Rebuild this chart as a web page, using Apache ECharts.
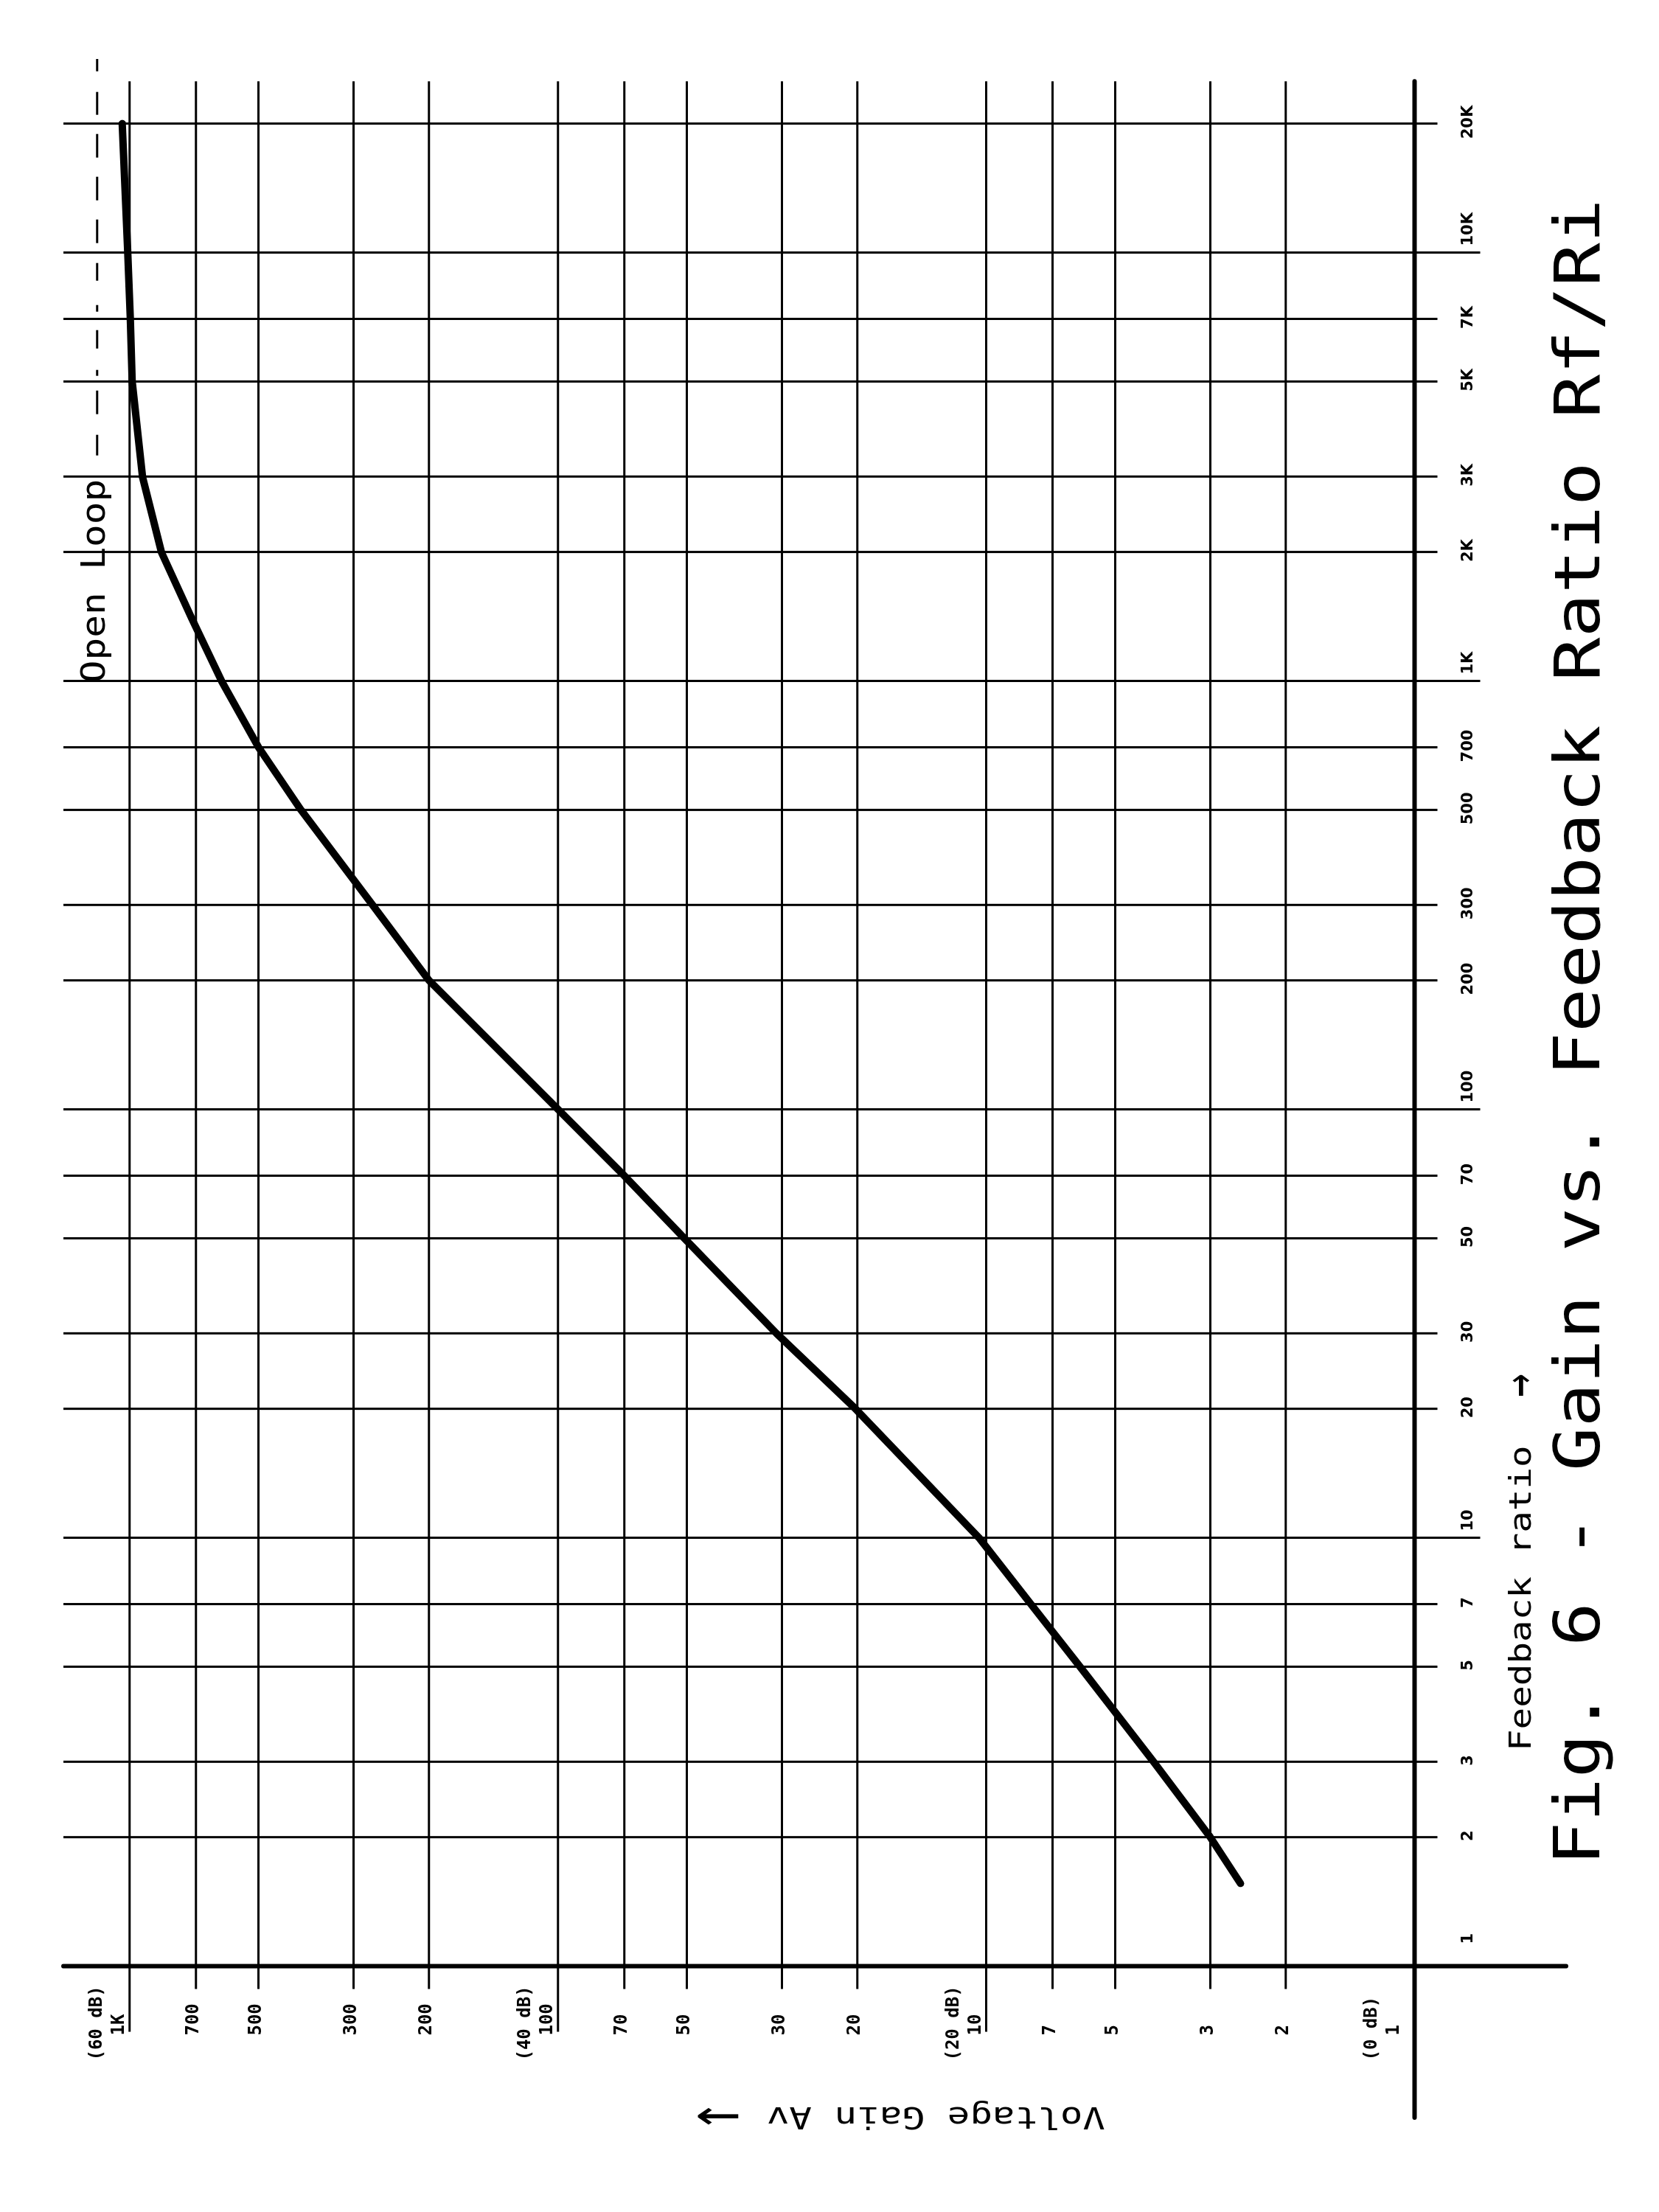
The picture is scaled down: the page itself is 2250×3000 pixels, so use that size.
<!DOCTYPE html>
<html>
<head>
<meta charset="utf-8">
<script src="https://cdn.jsdelivr.net/npm/echarts@6/dist/echarts.min.js"></script>
<style>
html, body { margin:0; padding:0; background:#ffffff; overflow:hidden; }
body { width:2250px; height:3000px; position:relative; }
#chart { position:absolute; left:0; top:0; width:3000px; height:2250px;
  transform-origin:0 0; transform:translate(0px, 3000px) rotate(-90deg); }
</style>
</head>
<body>
<div id="chart"></div>
<script>
// ---------- data ----------
const ratioTicks = [1, 2, 3, 5, 7, 10, 20, 30, 50, 70, 100, 200, 300, 500, 700, 1000, 2000, 3000, 5000, 7000, 10000, 20000];
const ratioTickLabels = ['1','2','3','5','7','10','20','30','50','70','100','200','300','500','700','1K','2K','3K','5K','7K','10K','20K'];
const gainTicks = [1, 2, 3, 5, 7, 10, 20, 30, 50, 70, 100, 200, 300, 500, 700, 1000];
const gainTickLabels = ['1','2','3','5','7','10','20','30','50','70','100','200','300','500','700','1K'];
const gainDbTicks = [1, 10, 100, 1000];
const gainDbLabels = ['(0 dB)', '(20 dB)', '(40 dB)', '(60 dB)'];

const curveRatio = [1.56, 2, 3, 5, 7, 10, 20, 30, 50, 70, 100, 200, 300, 500, 700, 1000, 1400, 2000, 3000, 5000, 7000, 10000, 20000];
const curveGain  = [2.55, 3, 4.07, 6.04, 7.87, 10.4, 20.2, 30.9, 50.7, 70, 100, 200, 271, 398, 500, 610, 716, 843, 933, 986, 996, 1010, 1040];

const openLoopGain = 1190;
const openLoopRatioRange = [3360, 28300];

const ratioAxisRange = [0.443, 28300];
const gainAxisRange = [0.443, 1427];
const ratioGridMax = 25100;

const titleText = 'Fig. 6 - Gain vs. Feedback Ratio Rf/Ri';
const xName = 'Feedback ratio';
const yName = 'Voltage Gain Av';
const arrowText = '\u2192';
const openLoopText = 'Open Loop';

// ---------- helpers ----------
const MONO = 'DejaVu Sans Mono';
const SANS = 'DejaVu Sans';
function isDecade(v) { const l = Math.log10(v); return Math.abs(l - Math.round(l)) < 1e-9; }
function txtStyle(text, family, size, weight, align, valign, x, y) {
  const s = { text: text, fontFamily: family, fontSize: size, fontWeight: weight, fill: '#000',
    textAlign: align, textVerticalAlign: valign, align: align, verticalAlign: valign };
  if (x !== undefined) { s.x = x; s.y = y; }
  return s;
}
function txt(text, x, y, family, size, weight, align, valign) {
  return { type: 'text', style: txtStyle(text, family, size, weight, align, valign, x, y) };
}

const chart = echarts.init(document.getElementById('chart'), null, { renderer: 'canvas' });

const option = {
  backgroundColor: '#ffffff',
  animation: false,
  grid: { left: 128, right: 80, top: 86, bottom: 126, containLabel: false },
  xAxis: { type: 'log', logBase: 10, min: ratioAxisRange[0], max: ratioAxisRange[1], show: false },
  yAxis: { type: 'log', logBase: 10, min: gainAxisRange[0], max: gainAxisRange[1], show: false },
  series: [
    {
      type: 'custom', name: 'gainGrid', z: 1, silent: true,
      data: gainTicks.map(g => [1, g]),
      renderItem: function (params, api) {
        const idx = params.dataIndex;
        const g = gainTicks[idx];
        const p = api.coord([1, g]);
        const end = api.coord([ratioGridMax, g]);
        const ch = [];
        const dec = isDecade(g);
        if (g === 1) {
          const s = api.coord([ratioAxisRange[0], g]);
          ch.push({ type: 'line', shape: { x1: s[0], y1: p[1], x2: end[0], y2: p[1] },
            style: { stroke: '#000', lineWidth: 6, lineCap: 'round' } });
        } else {
          const tick = dec ? 89 : 31;
          ch.push({ type: 'line', shape: { x1: p[0] - tick, y1: p[1], x2: end[0], y2: p[1] },
            style: { stroke: '#000', lineWidth: 3 } });
        }
        const dy = g === 1 ? -28 : (dec ? -14 : -3);
        ch.push(txt(gainTickLabels[idx], p[0] - 94, p[1] + dy, MONO, 24, 'bold', 'left', 'middle'));
        const di = gainDbTicks.indexOf(g);
        if (di >= 0) ch.push(txt(gainDbLabels[di], p[0] - 128, p[1] + dy - 30, MONO, 24, 'bold', 'left', 'middle'));
        return { type: 'group', children: ch };
      }
    },
    {
      type: 'custom', name: 'ratioGrid', z: 1, silent: true,
      data: ratioTicks.map(r => [r, 1]),
      renderItem: function (params, api) {
        const idx = params.dataIndex;
        const r = ratioTicks[idx];
        const p = api.coord([r, 1]);
        const top = api.coord([r, gainAxisRange[1]]);
        const ch = [];
        const dec = isDecade(r);
        if (r === 1) {
          const b = api.coord([r, gainAxisRange[0]]);
          ch.push({ type: 'line', shape: { x1: p[0], y1: top[1], x2: p[0], y2: b[1] },
            style: { stroke: '#000', lineWidth: 6, lineCap: 'round' } });
        } else {
          const tick = dec ? 89 : 31;
          ch.push({ type: 'line', shape: { x1: p[0], y1: top[1], x2: p[0], y2: p[1] + tick },
            style: { stroke: '#000', lineWidth: 3 } });
        }
        const ly = p[1] + 73;
        if (r === 1) ch.push(txt(ratioTickLabels[idx], p[0] + 30, ly, SANS, 21, 'bold', 'left', 'middle'));
        else if (dec) ch.push(txt(ratioTickLabels[idx], p[0] + 9, ly, SANS, 21, 'bold', 'left', 'middle'));
        else ch.push(txt(ratioTickLabels[idx], p[0] + 2, ly, SANS, 21, 'bold', 'center', 'middle'));
        return { type: 'group', children: ch };
      }
    },
    {
      type: 'line', name: 'Open Loop', z: 2, silent: true,
      data: openLoopRatioRange.map(r => [r, openLoopGain]),
      symbol: 'none',
      lineStyle: { color: '#000', width: 3,
        type: [28,28,32,20,8,29,25,25,9,33,24,27,32,26,32,26,32,26,31,28,17,100] }
    },
    {
      type: 'line', name: 'Gain', z: 3, silent: true,
      data: curveRatio.map((r, i) => [r, curveGain[i]]),
      symbol: 'none', smooth: false,
      lineStyle: { color: '#000', width: 10, cap: 'round', join: 'round' }
    }
  ],
  graphic: [
    { type: 'text', x: 1600, y: 2147, scaleX: 1.149, z: 10,
      style: txtStyle(titleText, MONO, 86, 'normal', 'center', 'middle') },
    { type: 'text', x: 625, y: 2065, scaleX: 1.2, z: 10,
      style: txtStyle(xName, MONO, 41, 'normal', 'left', 'middle') },
    { type: 'text', x: 1121, y: 2064, scaleX: 0.75, z: 10,
      style: txtStyle(arrowText, MONO, 70, 'normal', 'center', 'middle') },
    { type: 'text', x: 131, y: 1499, scaleX: 1.24, rotation: Math.PI / 2, z: 10,
      style: txtStyle(yName, MONO, 41, 'normal', 'left', 'middle') },
    { type: 'text', x: 131, y: 974, scaleX: 1.45, rotation: Math.PI / 2, z: 10,
      style: txtStyle(arrowText, MONO, 70, 'normal', 'center', 'middle') },
    { type: 'text', x: 2212, y: 131, scaleX: 1.16, z: 10,
      style: txtStyle(openLoopText, MONO, 44, 'normal', 'center', 'middle') }
  ]
};
chart.setOption(option);
</script>
</body>
</html>
